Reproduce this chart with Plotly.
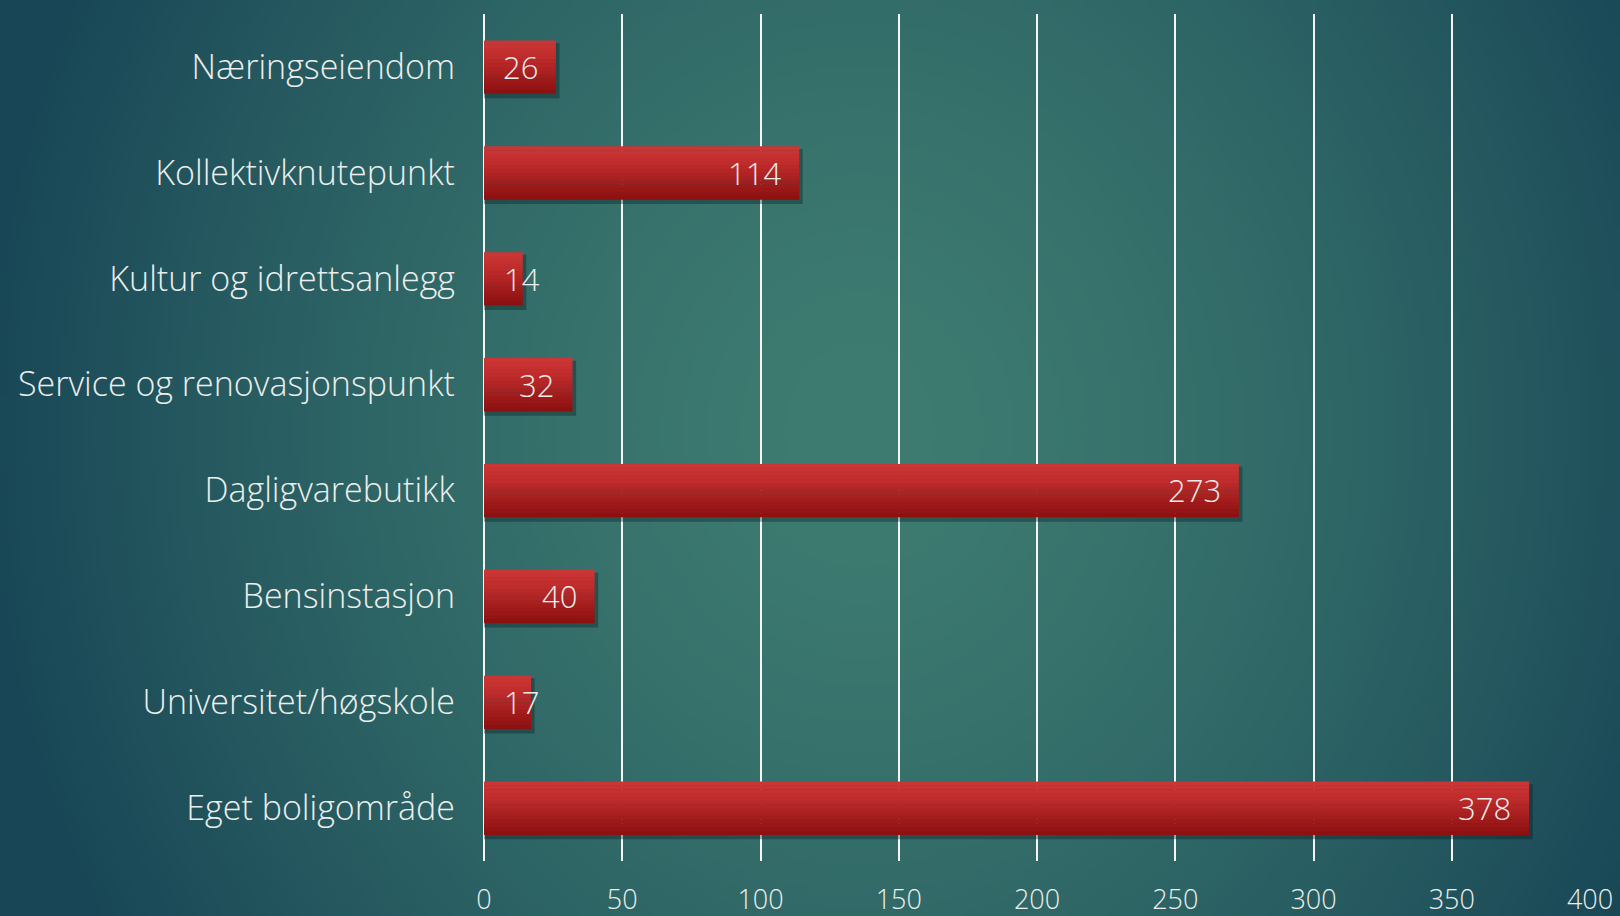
import base64
import struct
import zlib

import numpy as np
import plotly.graph_objects as go

# ---------------- data ----------------
categories = [
    "Næringseiendom",
    "Kollektivknutepunkt",
    "Kultur og idrettsanlegg",
    "Service og renovasjonspunkt",
    "Dagligvarebutikk",
    "Bensinstasjon",
    "Universitet/høgskole",
    "Eget boligområde",
]
values = [26, 114, 14, 32, 273, 40, 17, 378]
x_ticks = [0, 50, 100, 150, 200, 250, 300, 350, 400]

# ---------------- layout constants ----------------
W, H = 1620, 916
ML, MR, MT, MB = 484, 30, 14, 55
FONT = "Century Gothic, Open Sans, sans-serif"
TXT = "rgb(236,238,236)"


# ---------------- background: radial teal gradient as PNG ----------------
def make_bg(w=324, h=184):
    sx, sy = W / w, H / h
    xs = (np.arange(w) + 0.5) * sx
    ys = (np.arange(h) + 0.5) * sy
    X, Y = np.meshgrid(xs, ys)
    cx, cy, rx, ry = 860.0, 430.0, 880.0, 1000.0
    t = np.sqrt(((X - cx) / rx) ** 2 + ((Y - cy) / ry) ** 2)
    t = np.clip(t, 0, 1) ** 1.5
    inner = np.array([62, 124, 113], dtype=float)
    outer = np.array([24, 70, 86], dtype=float)
    img = inner[None, None, :] * (1 - t[..., None]) + outer[None, None, :] * t[..., None]
    img = np.clip(img, 0, 255).astype(np.uint8)
    raw = b"".join(b"\x00" + img[r].tobytes() for r in range(h))

    def chunk(tag, data):
        c = struct.pack(">I", len(data)) + tag + data
        return c + struct.pack(">I", zlib.crc32(tag + data) & 0xFFFFFFFF)

    png = b"\x89PNG\r\n\x1a\n"
    png += chunk(b"IHDR", struct.pack(">IIBBBBB", w, h, 8, 2, 0, 0, 0))
    png += chunk(b"IDAT", zlib.compress(raw, 9))
    png += chunk(b"IEND", b"")
    return "data:image/png;base64," + base64.b64encode(png).decode()


fig = go.Figure()

BAR_W = 0.5
# soft shadow under each bar
fig.add_trace(go.Bar(
    y=categories, x=np.array(values) + 1.3, orientation="h",
    width=BAR_W + 0.02, offset=-BAR_W / 2 + 0.025,
    marker=dict(color="rgba(5,25,30,0.35)", line=dict(width=0)),
    hoverinfo="skip", showlegend=False,
))

# vertical red gradient built from thin strips
top_c = np.array([205, 54, 54])
mid_c = np.array([192, 45, 45])
bot_c = np.array([139, 16, 16])
N = 14
sw = BAR_W / N
for i in range(N):
    t = (i + 0.5) / N
    if t < 0.3:
        c = top_c + (mid_c - top_c) * (t / 0.3)
    else:
        c = mid_c + (bot_c - mid_c) * ((t - 0.3) / 0.7)
    col = "rgb(%d,%d,%d)" % tuple(int(round(v)) for v in c)
    fig.add_trace(go.Bar(
        y=categories, x=values, orientation="h",
        width=sw + 0.004, offset=-BAR_W / 2 + i * sw,
        marker=dict(color=col, line=dict(width=0)),
        hoverinfo="skip", showlegend=False,
    ))

# data labels (inside end, clamped to the left for very short bars)
for cat, v in zip(categories, values):
    if v >= 20:
        fig.add_annotation(x=v, y=cat, xref="x", yref="y", text=str(v),
                           xanchor="right", xshift=-16, yshift=0, showarrow=False,
                           font=dict(family=FONT, size=31, color=TXT, weight=300))
    else:
        fig.add_annotation(x=0, y=cat, xref="x", yref="y", text=str(v),
                           xanchor="left", xshift=18, yshift=0, showarrow=False,
                           font=dict(family=FONT, size=31, color=TXT, weight=300))

pw = W - ML - MR
ph = H - MT - MB
fig.add_layout_image(dict(
    source=make_bg(), xref="paper", yref="paper",
    x=-ML / pw, y=1 + MT / ph, sizex=W / pw, sizey=H / ph,
    xanchor="left", yanchor="top", sizing="stretch", layer="below",
))

fig.update_layout(
    width=W, height=H, autosize=False,
    margin=dict(l=ML, r=MR, t=MT, b=MB, pad=0, autoexpand=False),
    paper_bgcolor="rgb(30,80,90)",
    plot_bgcolor="rgba(0,0,0,0)",
    barmode="overlay",
    showlegend=False,
    font=dict(family=FONT, color=TXT),
)
fig.update_xaxes(
    range=[0, 400], tickvals=x_ticks, ticktext=[str(t) for t in x_ticks],
    showgrid=True, gridcolor="rgb(245,245,245)", gridwidth=2,
    zeroline=True, zerolinecolor="rgb(245,245,245)", zerolinewidth=2,
    showline=False, ticks="", ticklabelstandoff=20, automargin=False,
    tickfont=dict(family=FONT, size=27, color=TXT, weight=300),
)
fig.update_yaxes(
    categoryorder="array", categoryarray=categories, autorange="reversed",
    showgrid=False, zeroline=False, showline=False, ticks="",
    ticklabelstandoff=28, automargin=False,
    tickfont=dict(family=FONT, size=34, color=TXT, weight=300),
)

fig.write_html(
    "out.html",
    config={"displayModeBar": False},
    post_script="document.body.style.margin='0';document.body.style.overflow='hidden';",
)
